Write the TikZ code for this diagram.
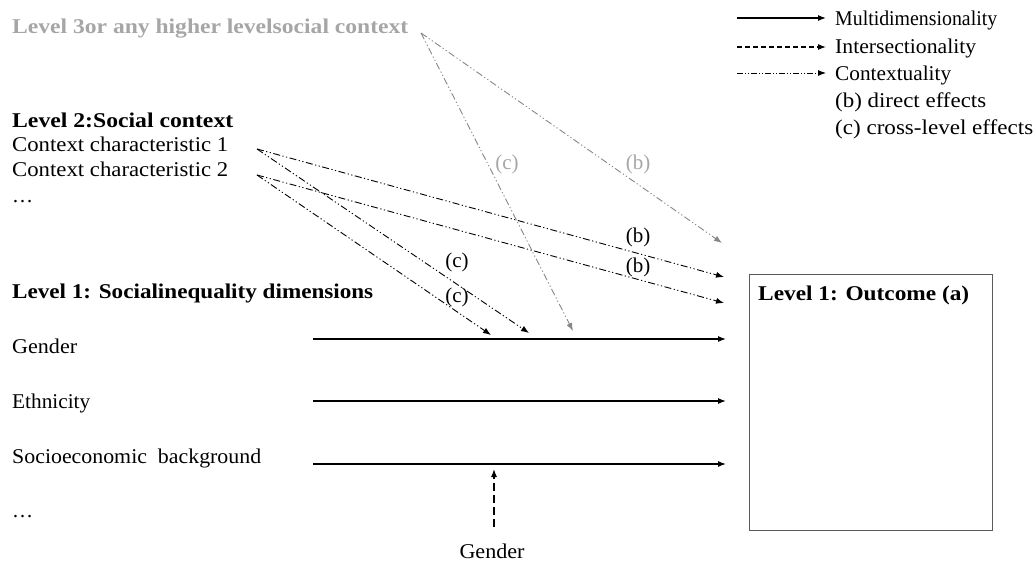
\documentclass[tikz,border=0pt]{standalone}
\usepackage{graphicx}
\usepackage{fontspec}
\setmainfont{Liberation Serif}
\usetikzlibrary{arrows.meta}
\definecolor{lvlgray}{RGB}{166,166,166}
\definecolor{linegray}{RGB}{135,135,135}
\definecolor{boxgray}{RGB}{90,90,90}
\tikzset{
  txt/.style={anchor=base west, inner sep=0pt, font=\fontsize{21}{24}\selectfont},
  ttl/.style={txt, font=\fontsize{21}{24}\selectfont\bfseries},
  lab/.style={anchor=center, inner sep=0pt, font=\fontsize{21}{24}\selectfont},
  multi/.style={line width=1.2pt, -{Latex[length=8pt,width=6pt]}},
  inter/.style={line width=1.1pt, dash pattern=on 8pt off 4pt, -{Latex[length=8pt,width=6pt]}},
  ctx/.style={line width=0.9pt, dash pattern=on 7pt off 2.5pt on 1.2pt off 2.5pt on 1.2pt off 2.5pt, -{Latex[length=8pt,width=6pt]}},
  ctxgray/.style={ctx, draw=linegray, -{Latex[length=8pt,width=6pt,fill=linegray]}},
}
\newcommand{\fitw}[2]{\resizebox{#1pt}{\height}{#2}}
\begin{document}
\begin{tikzpicture}[x=1pt,y=-1pt]
\useasboundingbox (0,0) rectangle (1036,562);

% Level 3
\node[ttl, text=lvlgray] (l3) at (12,33) {\fitw{396}{Level 3or any higher levelsocial context}};
% Level 2
\node[ttl] (l2) at (12,127) {\fitw{221}{Level 2:Social context}};
\node[txt] (c1) at (12,151) {\fitw{216}{Context characteristic 1}};
\node[txt] (c2) at (12,176) {\fitw{216}{Context characteristic 2}};
\node[txt] (dots2) at (12,202) {…};
% Level 1
\node[ttl] (l1) at (12,298) {\fitw{361}{Level 1: Socialinequality dimensions}};
\node[txt] (gen) at (12,353) {\fitw{65}{Gender}};
\node[txt] (eth) at (12,408) {\fitw{78}{Ethnicity}};
\node[txt] (ses) at (12,463) {\fitw{249}{Socioeconomic\ \ background}};
\node[txt] (dots1) at (12,517) {…};

% Outcome box
\node[draw=boxgray, line width=1.3pt, anchor=north west, inner sep=0pt,
      minimum width=243pt, minimum height=256pt] (box) at (749,274) {};
\node[ttl] (outc) at (758,300) {\fitw{211}{Level 1: Outcome (a)}};

% Legend
\coordinate (lg1a) at (737,18); \coordinate (lg1b) at (826,18);
\coordinate (lg2a) at (737,47); \coordinate (lg2b) at (826,47);
\coordinate (lg3a) at (737,73); \coordinate (lg3b) at (826,73);
\draw[multi] (lg1a) -- (lg1b);
\draw[inter, dash pattern=on 5pt off 3pt] (lg2a) -- (lg2b);
\draw[ctx, dash pattern=on 6pt off 2pt on 1pt off 2pt on 1pt off 2pt] (lg3a) -- (lg3b);
\node[txt] (lgt1) at (835,25) {\fitw{162}{Multidimensionality}};
\node[txt] (lgt2) at (835,53) {\fitw{141}{Intersectionality}};
\node[txt] (lgt3) at (835,80) {\fitw{116}{Contextuality}};
\node[txt] (lgt4) at (835,107) {\fitw{151}{(b) direct effects}};
\node[txt] (lgt5) at (835,134) {\fitw{198}{(c) cross-level effects}};

% Multidimensionality arrows
\coordinate (g0) at (313,339); \coordinate (g1) at (726,339);
\coordinate (e0) at (313,401); \coordinate (e1) at (726,401);
\coordinate (s0) at (313,464); \coordinate (s1) at (726,464);
\draw[multi] (g0) -- (g1);
\draw[multi] (e0) -- (e1);
\draw[multi] (s0) -- (s1);

% Intersectionality (Gender below)
\node[anchor=base, inner sep=0pt, font=\fontsize{21}{24}\selectfont] (gbot) at (492,558) {\fitw{65}{Gender}};
\coordinate (gb0) at (494,527); \coordinate (gb1) at (494,469);
\draw[inter] (gb0) -- (gb1);

% Contextuality from level 2
\coordinate (c1s) at (257,149);
\coordinate (c2s) at (257,175);
\coordinate (t1b) at (724,277);
\coordinate (t2b) at (724,303);
\coordinate (t1c) at (529,333);
\coordinate (t2c) at (491,335);
\draw[ctx] (c1s) -- (t1b);
\draw[ctx] (c2s) -- (t2b);
\draw[ctx] (c1s) -- (t1c);
\draw[ctx] (c2s) -- (t2c);
\node[lab] (lb1) at (638,237) {(b)};
\node[lab] (lb2) at (638,267) {(b)};
\node[lab] (lc1) at (457,262) {(c)};
\node[lab] (lc2) at (457,297) {(c)};

% Contextuality from level 3
\coordinate (l3s) at (421,33);
\coordinate (l3b) at (722,243);
\coordinate (l3c) at (573,331);
\draw[ctxgray] (l3s) -- (l3b);
\draw[ctxgray] (l3s) -- (l3c);
\node[lab, text=lvlgray] (gc) at (507,164) {(c)};
\node[lab, text=lvlgray] (gb) at (638,164) {(b)};
\end{tikzpicture}
\end{document}
